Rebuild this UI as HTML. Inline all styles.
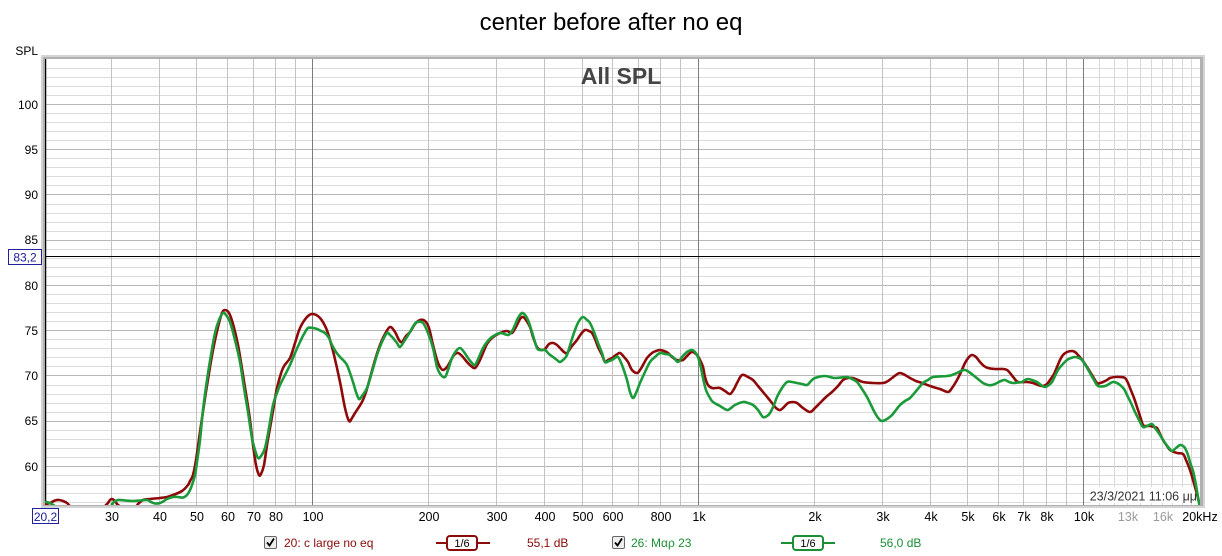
<!DOCTYPE html>
<html><head><meta charset="utf-8"><style>
html,body{margin:0;padding:0;background:#fff;}
svg{display:block;font-family:"Liberation Sans",Arial,sans-serif;}
</style></head><body>
<svg id="chart" width="1222" height="556" viewBox="0 0 1222 556" xmlns="http://www.w3.org/2000/svg">
<defs><clipPath id="pc"><rect x="45" y="59" width="1155" height="446"/></clipPath></defs>
<text x="611" y="30" font-size="24" text-anchor="middle" fill="#000">center before after no eq</text>
<text x="38" y="55" font-size="12" text-anchor="end" fill="#000">SPL</text>
<!-- frame -->
<rect x="41" y="55" width="1164" height="453" fill="#d4d4d4"/>
<rect x="43" y="57" width="1160" height="449" fill="#b0b0b0"/>
<rect x="45" y="59" width="1155" height="446" fill="#fff"/>
<g clip-path="url(#pc)">
<g stroke="#dcdcdc" stroke-width="1">
<path d="M45 502.5H1200M45 493.5H1200M45 484.5H1200M45 475.5H1200M45 457.5H1200M45 448.5H1200M45 439.5H1200M45 430.5H1200M45 412.5H1200M45 403.5H1200M45 394.5H1200M45 385.5H1200M45 366.5H1200M45 357.5H1200M45 348.5H1200M45 339.5H1200M45 321.5H1200M45 312.5H1200M45 303.5H1200M45 294.5H1200M45 276.5H1200M45 267.5H1200M45 258.5H1200M45 249.5H1200M45 231.5H1200M45 222.5H1200M45 213.5H1200M45 204.5H1200M45 185.5H1200M45 176.5H1200M45 167.5H1200M45 158.5H1200M45 140.5H1200M45 131.5H1200M45 122.5H1200M45 113.5H1200M45 95.5H1200M45 86.5H1200M45 77.5H1200M45 68.5H1200"/>
</g>
<g stroke="#b8b8b8" stroke-width="1">
<path d="M45 466.5H1200M45 421.5H1200M45 375.5H1200M45 330.5H1200M45 285.5H1200M45 240.5H1200M45 194.5H1200M45 149.5H1200M45 104.5H1200"/>
</g>
<g stroke="#c2c2c2" stroke-width="1">
<path d="M111.5 59V505M159.5 59V505M196.5 59V505M227.5 59V505M253.5 59V505M275.5 59V505M295.5 59V505M428.5 59V505M496.5 59V505M544.5 59V505M582.5 59V505M612.5 59V505M638.5 59V505M660.5 59V505M680.5 59V505M814.5 59V505M882.5 59V505M930.5 59V505M967.5 59V505M998.5 59V505M1023.5 59V505M1046.5 59V505M1066.5 59V505"/>
</g>
<g stroke="#d8d8d8" stroke-width="1">
<path d="M1099.5 59V505M1114.5 59V505M1127.5 59V505M1140.5 59V505M1151.5 59V505M1162.5 59V505M1172.5 59V505M1182.5 59V505M1191.5 59V505"/>
</g>
<g stroke="#7c7c7c" stroke-width="1">
<path d="M312.5 59V505M698.5 59V505M1083.5 59V505"/>
</g>
<!-- cursor lines -->
<path d="M45 256.5H1200" stroke="#000" stroke-width="1"/>
<path d="M45.5 59V505" stroke="#000" stroke-width="1.5"/>
<rect x="1091" y="487" width="108" height="16" fill="#fff"/>
<text x="1197" y="500.5" font-size="12.5" text-anchor="end" fill="#333">23/3/2021 11:06 μμ</text>
<text x="621" y="84" font-size="23" font-weight="bold" text-anchor="middle" fill="#454545">All SPL</text>
<polyline class="crv" fill="none" stroke="#8e0a0a" stroke-width="2.6" stroke-linejoin="round" stroke-linecap="round" points="46,504 50,503 55,500.5 59,500 63,501 67,503 70,506 75,508 100,508 107,504 110,500 112,499 115,501 118,505 125,508 135,508 138,504 143,500 150,499 160,498 167,497 173,495 182,491 188,485 190,481 193,475 196,460 200,432 205,398 210,367 214,345 218,327 222,313 225,310 229,313 233,324 238,345 243,375 247,400 250,420 253,445 256,465 259,475 261,474 264,465 267,445 270,428 274,405 277,388 283,368 290,358 295,343 300,328 307,317 313,314 320,318 326,328 330,340 334,355 340,382 345,408 349,421 352,418 355,413 362,402 366,392 370,378 375,360 380,345 385,334 390,327 395,332 399,340 402,342 406,336 410,332 415,324 420,320 425,321 429,328 433,345 437,360 440,367 443,370 447,367 450,362 454,355 458,353 462,356 467,362 471,366 475,368 479,362 483,353 487,344 492,338 500,333 507,331 512,333 517,325 520,319 523,317 526,320 530,327 533,337 537,347 541,350 545,349 549,344 553,343 557,345 560,348 564,352 567,353 572,346 577,340 581,334 585,330 589,331 592,333 595,339 598,347 602,355 605,362 608,360 612,358 616,355 620,353 624,357 628,362 632,370 637,373 640,370 643,365 647,358 652,353 656,351 660,350 664,351 668,353 672,357 677,360 683,360 687,356 692,352 697,355 700,360 703,367 705,377 708,385 712,388 716,388 720,388 725,391 730,394 734,389 737,383 742,375 748,377 753,380 758,386 763,392 768,398 772,403 776,408 780,410 784,407 788,403 793,402 797,403 803,408 810,412 815,408 820,403 826,397 832,392 838,386 843,380 848,378 853,378 858,380 863,382 873,383 883,383 888,381 892,378 896,375 900,373 905,375 910,378 916,381 922,383 933,387 940,389 948,392 952,388 957,380 961,372 965,363 969,357 972,355 976,357 980,362 984,366 988,368 995,369 1003,369 1007,370 1010,373 1014,378 1018,382 1027,382 1033,383 1038,385 1043,386 1047,384 1050,380 1054,374 1057,367 1060,360 1063,355 1067,352 1072,351 1075,352 1078,355 1083,361 1087,367 1092,375 1097,383 1100,383 1103,382 1107,380 1110,378 1115,377 1120,377 1125,378 1128,383 1130,388 1134,398 1137,407 1140,416 1143,425 1146,426 1150,426 1154,427 1157,428 1160,434 1163,440 1167,446 1170,450 1174,452 1177,453 1183,454 1186,460 1190,470 1193,480 1195,487 1198,498 1200,506"/>
<polyline class="crv" fill="none" stroke="#1b9a3a" stroke-width="2.6" stroke-linejoin="round" stroke-linecap="round" points="46,502 50,503 54,505.5 60,507 108,507 112,504 114,502 118,500 125,500.5 133,501 140,500.5 147,500 151,502 155,503.5 160,503 164,501 167,499 173,497 178,497 183,497.5 187,495 190,490 192,485 195,475 197,462 200,440 203,410 207,380 211,355 215,333 219,320 223,313 226,315 230,322 235,340 240,362 244,388 248,412 252,438 255,450 258,458 261,456 265,448 269,428 273,405 277,393 280,385 285,375 290,365 295,353 300,342 304,334 308,328 313,328 317,329 321,331 325,333 329,338 332,345 336,352 340,357 344,361 347,365 350,373 353,382 356,392 359,399 362,396 367,388 372,372 377,355 382,342 387,333 390,335 393,338 397,343 400,347 405,340 410,332 414,325 417,322 423,323 428,333 433,348 437,367 441,375 445,377 448,370 452,358 456,351 460,348 464,352 468,358 472,363 475,365 479,357 483,348 487,342 492,337 500,333 508,335 512,331 515,325 518,318 522,313 525,315 528,320 532,332 537,348 541,350 545,350 549,354 553,357 557,360 560,362 564,359 567,355 571,342 575,330 579,321 583,317 587,320 590,323 594,332 598,343 602,353 605,362 609,361 612,360 615,358 618,357 622,365 627,380 630,392 633,398 636,393 640,383 645,372 650,362 655,357 660,353 665,354 670,355 674,358 678,362 682,357 687,352 692,350 695,352 698,357 701,368 703,378 706,390 710,398 713,402 720,406 727,410 731,408 735,405 743,402 748,403 753,405 758,410 763,417 767,416 770,413 774,405 777,397 782,388 787,382 792,382 797,383 802,384 807,385 811,381 815,378 825,376 835,378 847,377 852,379 857,382 862,389 867,397 871,405 875,413 879,419 882,421 887,419 892,415 896,410 900,405 905,401 910,398 917,390 923,383 928,380 933,377 947,376 952,375 957,373 961,371 965,370 969,372 973,375 978,379 983,383 988,385 992,385 997,383 1001,381 1005,380 1009,382 1013,383 1018,382.5 1022,382 1025,380 1028,379 1032,380 1037,382 1041,385 1045,387 1049,385 1052,382 1055,376 1058,370 1062,365 1067,360 1071,358 1075,357 1079,358 1082,360 1086,366 1090,373 1094,380 1098,386 1105,386 1109,384 1113,382 1117,383 1120,385 1124,389 1127,395 1131,403 1135,412 1139,420 1143,427 1147,426 1152,424 1155,428 1158,432 1162,438 1165,443 1169,448 1172,451 1176,448 1180,445 1183,446 1185,448 1188,455 1190,462 1193,471 1195,480 1197,491 1199,503 1200,507"/>
</g>
<!-- y labels -->
<g font-size="12" text-anchor="end" fill="#000">
<text x="38" y="109">100</text>
<text x="38" y="154">95</text>
<text x="38" y="199">90</text>
<text x="38" y="244">85</text>
<text x="38" y="290">80</text>
<text x="38" y="335">75</text>
<text x="38" y="380">70</text>
<text x="38" y="425">65</text>
<text x="38" y="471">60</text>
</g>
<rect x="8.5" y="249.5" width="33" height="15" fill="#fff" stroke="#2020a0" stroke-width="1"/>
<text x="25" y="261.5" font-size="12" text-anchor="middle" fill="#1a1a9a">83,2</text>
<rect x="32.5" y="508.5" width="26" height="15" fill="#fff" stroke="#2020a0" stroke-width="1"/>
<text x="45.5" y="521" font-size="12" text-anchor="middle" fill="#1a1a9a">20,2</text>
<!-- x labels -->
<g font-size="12.5" text-anchor="middle" fill="#000">
<text x="112" y="521">30</text>
<text x="160" y="521">40</text>
<text x="197" y="521">50</text>
<text x="228" y="521">60</text>
<text x="254" y="521">70</text>
<text x="276" y="521">80</text>
<text x="313" y="521">100</text>
<text x="429" y="521">200</text>
<text x="497" y="521">300</text>
<text x="545" y="521">400</text>
<text x="583" y="521">500</text>
<text x="613" y="521">600</text>
<text x="661" y="521">800</text>
<text x="699" y="521">1k</text>
<text x="815" y="521">2k</text>
<text x="883" y="521">3k</text>
<text x="931" y="521">4k</text>
<text x="968" y="521">5k</text>
<text x="999" y="521">6k</text>
<text x="1024" y="521">7k</text>
<text x="1047" y="521">8k</text>
<text x="1084" y="521">10k</text>
<text x="1128" y="521" fill="#9a9a9a">13k</text>
<text x="1163" y="521" fill="#9a9a9a">16k</text>
<text x="1200" y="521">20kHz</text>
</g>
<!-- legend -->
<g>
<rect x="264.5" y="536.5" width="12" height="12" fill="#eee" stroke="#666" rx="1.5"/>
<path d="M267 542.5l2.5 3l4.5-7" fill="none" stroke="#000" stroke-width="1.8"/>
<text x="284" y="547" font-size="12" fill="#8b0a0a">20: c large no eq</text>
<path d="M436 543H490" stroke="#8b0a0a" stroke-width="2"/>
<rect x="447" y="536" width="30" height="14" rx="3" fill="#fff" stroke="#8b0a0a" stroke-width="2"/>
<text x="462" y="547" font-size="11" text-anchor="middle" fill="#000">1/6</text>
<text x="527" y="547" font-size="12" fill="#8b0a0a">55,1 dB</text>
<rect x="612.5" y="536.5" width="12" height="12" fill="#eee" stroke="#666" rx="1.5"/>
<path d="M615 542.5l2.5 3l4.5-7" fill="none" stroke="#000" stroke-width="1.8"/>
<text x="631" y="547" font-size="12" fill="#1b8f35">26: Μαρ 23</text>
<path d="M781 543H835" stroke="#1b8f35" stroke-width="2"/>
<rect x="793" y="536" width="30" height="14" rx="3" fill="#fff" stroke="#1b8f35" stroke-width="2"/>
<text x="808" y="547" font-size="11" text-anchor="middle" fill="#000">1/6</text>
<text x="880" y="547" font-size="12" fill="#1b8f35">56,0 dB</text>
</g>
</svg>
<script>
(function(){
var ns="http://www.w3.org/2000/svg";
var pls=document.querySelectorAll("polyline.crv");
for(var k=0;k<pls.length;k++){
var pl=pls[k];
var raw=pl.getAttribute("points").trim().split(/\s+/);
var p=raw.map(function(s){var a=s.split(",");return [parseFloat(a[0]),parseFloat(a[1])];});
var d="M"+p[0][0]+" "+p[0][1];
for(var i=0;i<p.length-1;i++){
var p0=p[i>0?i-1:0],p1=p[i],p2=p[i+1],p3=p[i+2<p.length?i+2:p.length-1];
var t=6;
var c1x=p1[0]+(p2[0]-p0[0])/t,c1y=p1[1]+(p2[1]-p0[1])/t;
var c2x=p2[0]-(p3[0]-p1[0])/t,c2y=p2[1]-(p3[1]-p1[1])/t;
d+="C"+c1x.toFixed(2)+" "+c1y.toFixed(2)+" "+c2x.toFixed(2)+" "+c2y.toFixed(2)+" "+p2[0]+" "+p2[1];
}
var path=document.createElementNS(ns,"path");
path.setAttribute("d",d);
["fill","stroke","stroke-width","stroke-linejoin","stroke-linecap"].forEach(function(a){path.setAttribute(a,pl.getAttribute(a));});
pl.parentNode.replaceChild(path,pl);
}
})();
</script>
</body></html>
